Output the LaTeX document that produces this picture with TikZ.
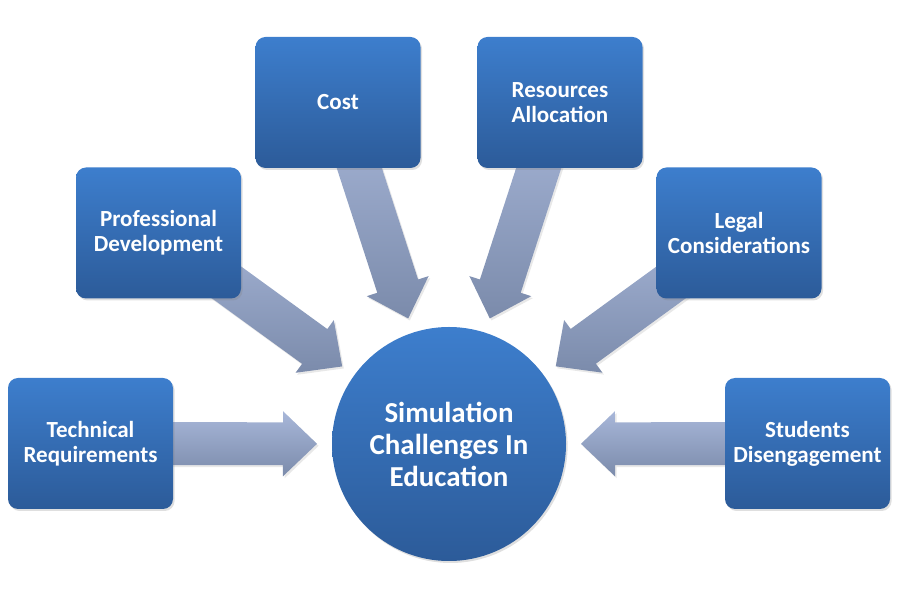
\documentclass[tikz,border=0pt]{standalone}
\usepackage{fontspec}
\setmainfont{Carlito}
\usetikzlibrary{calc,shadows}
\pgfdeclarelayer{background}
\pgfsetlayers{background,main}
\definecolor{boxtop}{RGB}{61,126,205}
\definecolor{boxbot}{RGB}{44,91,153}
\definecolor{arrtop}{RGB}{168,183,217}
\definecolor{arrbot}{RGB}{123,139,171}
\tikzset{
  topicbox/.style={rectangle, rounded corners=7.5pt, minimum width=123.75pt,
    minimum height=98.25pt, top color=boxtop, bottom color=boxbot, draw=none,
    text=white, align=center, font=\bfseries\fontsize{17.3}{18.75}\selectfont,
    drop shadow={shadow xshift=1.2pt, shadow yshift=-1.5pt, opacity=0.25}},
  hub/.style={circle, minimum size=175.5pt, top color=boxtop, bottom color=boxbot,
    draw=none, text=white, align=center, font=\bfseries\fontsize{21.7}{24}\selectfont,
    drop shadow={shadow xshift=1.2pt, shadow yshift=-1.5pt, opacity=0.25}},
  arrowfill/.style={top color=arrtop, bottom color=arrbot, draw=none,
    drop shadow={shadow xshift=1.2pt, shadow yshift=-1.5pt, opacity=0.18}}
}
\newcommand\convarrow[2]{%
  \coordinate (#1-q) at ($(#2)!124.5pt!(#1)$);
  \coordinate (#1-p) at ($(#2)!99pt!(#1)$);
  \path[arrowfill] ($(#1)!16.1pt!90:(#2)$) -- ($(#1-q)!16.1pt!-90:(#1)$)
    -- ($(#1-q)!24.4pt!-90:(#1)$) -- (#1-p) -- ($(#1-q)!24.4pt!90:(#1)$)
    -- ($(#1-q)!16.1pt!90:(#1)$) -- ($(#1)!16.1pt!-90:(#2)$) -- cycle;
}
\begin{document}
\begin{tikzpicture}[x=0.75pt,y=0.75pt]
\useasboundingbox (0,0) rectangle (904,600);
\node[hub] (hub) at (449,156) {Simulation\\Challenges In\\Education};
\node[topicbox] (tech) at (90.5,156.5) {Technical\\Requirements};
\node[topicbox] (prof) at (158.5,367) {Professional\\Development};
\node[topicbox] (cost) at (338,497.5) {Cost};
\node[topicbox] (res) at (560,497.5) {Resources\\Allocation};
\node[topicbox] (legal) at (739,367) {Legal\\Considerations};
\node[topicbox] (stud) at (807.5,156.5) {Students\\Disengagement};
\begin{pgfonlayer}{background}
\convarrow{tech}{hub}
\convarrow{prof}{hub}
\convarrow{cost}{hub}
\convarrow{res}{hub}
\convarrow{legal}{hub}
\convarrow{stud}{hub}
\end{pgfonlayer}
\end{tikzpicture}
\end{document}
